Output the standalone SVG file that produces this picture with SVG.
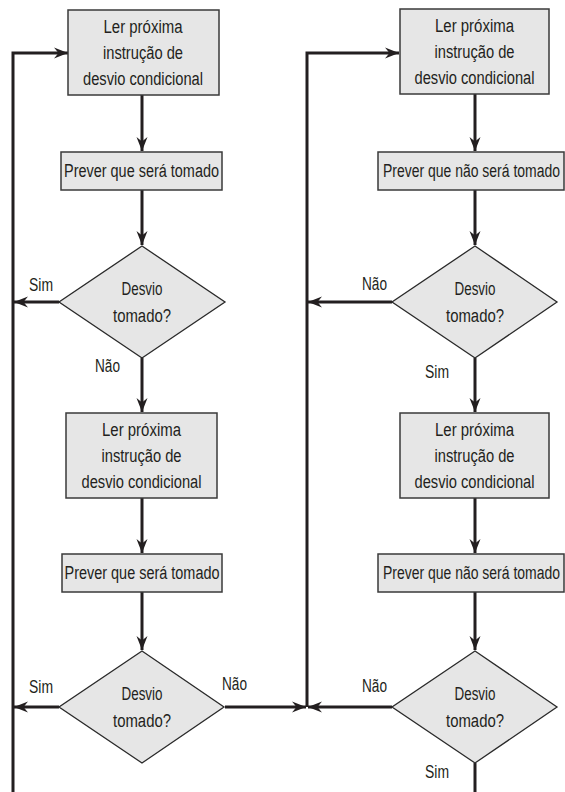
<svg xmlns="http://www.w3.org/2000/svg" width="565" height="792" viewBox="0 0 565 792">
  <style>
    .box { fill: #e6e6e6; stroke: #3a3a3a; stroke-width: 1.5; }
    .dec { fill: #e6e6e6; stroke: #2a2a2a; stroke-width: 1.3; }
    .t { font-family: "Liberation Sans", Arial, sans-serif; font-size: 18px; fill: #231f20; text-anchor: middle; }
    .lbl { font-family: "Liberation Sans", Arial, sans-serif; font-size: 18px; fill: #231f20; }
    .c { fill: none; stroke: #231f20; stroke-width: 3; }
    .a { marker-end: url(#head); }
  </style>
  <defs>
    <marker id="head" viewBox="-15 -7 16 14" refX="0" refY="0" markerWidth="16" markerHeight="14" markerUnits="userSpaceOnUse" orient="auto">
      <path d="M0,0 L-14,-5.5 L-9.5,0 L-14,5.5 Z" fill="#231f20"/>
    </marker>
  </defs>

  <!-- connectors -->
  <g id="connectors">
    <!-- left column -->
    <path class="c a" d="M13,792 V53 H68"/>
    <path class="c a" d="M142,95 V151"/>
    <path class="c a" d="M142,190 V245"/>
    <path class="c a" d="M59,302 H14"/>
    <path class="c a" d="M142,358 V412"/>
    <path class="c a" d="M142,498 V553"/>
    <path class="c a" d="M142,592 V650"/>
    <path class="c a" d="M59,707 H14"/>
    <path class="c a" d="M225,707 H306"/>
    <!-- right column -->
    <path class="c a" d="M307,707 V53 H399"/>
    <path class="c a" d="M475,94 V151"/>
    <path class="c a" d="M475,190 V245"/>
    <path class="c a" d="M392,302 H308"/>
    <path class="c a" d="M475,358 V412"/>
    <path class="c a" d="M475,498 V553"/>
    <path class="c a" d="M475,592 V650"/>
    <path class="c a" d="M392,707 H308"/>
    <path class="c" d="M475,763 V792"/>
  </g>

  <!-- left column nodes -->
  <g id="ler1">
    <rect class="box" x="68" y="10" width="151" height="85"/>
    <text class="t" x="143" y="33" textLength="79" lengthAdjust="spacingAndGlyphs">Ler próxima</text>
    <text class="t" x="143" y="59" textLength="80" lengthAdjust="spacingAndGlyphs">instrução de</text>
    <text class="t" x="143" y="85" textLength="120" lengthAdjust="spacingAndGlyphs">desvio condicional</text>
  </g>
  <g id="prever1">
    <rect class="box" x="61" y="152" width="161" height="38"/>
    <text class="t" x="141.5" y="177" textLength="155" lengthAdjust="spacingAndGlyphs">Prever que será tomado</text>
  </g>
  <g id="desvio1">
    <polygon class="dec" points="142,246 225,302 142,358 59,302"/>
    <text class="t" x="142" y="295" textLength="41" lengthAdjust="spacingAndGlyphs">Desvio</text>
    <text class="t" x="142" y="322" textLength="58" lengthAdjust="spacingAndGlyphs">tomado?</text>
  </g>
  <g id="ler2">
    <rect class="box" x="66" y="413" width="151" height="85"/>
    <text class="t" x="141.5" y="436" textLength="79" lengthAdjust="spacingAndGlyphs">Ler próxima</text>
    <text class="t" x="141.5" y="462" textLength="80" lengthAdjust="spacingAndGlyphs">instrução de</text>
    <text class="t" x="141.5" y="488" textLength="120" lengthAdjust="spacingAndGlyphs">desvio condicional</text>
  </g>
  <g id="prever2">
    <rect class="box" x="62" y="554" width="160" height="38"/>
    <text class="t" x="142" y="579" textLength="155" lengthAdjust="spacingAndGlyphs">Prever que será tomado</text>
  </g>
  <g id="desvio2">
    <polygon class="dec" points="142,651 224,707 142,763 59,707"/>
    <text class="t" x="142" y="700" textLength="41" lengthAdjust="spacingAndGlyphs">Desvio</text>
    <text class="t" x="142" y="727" textLength="58" lengthAdjust="spacingAndGlyphs">tomado?</text>
  </g>

  <!-- right column nodes -->
  <g id="ler3">
    <rect class="box" x="400" y="9" width="149" height="85"/>
    <text class="t" x="474.5" y="32" textLength="79" lengthAdjust="spacingAndGlyphs">Ler próxima</text>
    <text class="t" x="474.5" y="58" textLength="80" lengthAdjust="spacingAndGlyphs">instrução de</text>
    <text class="t" x="474.5" y="84" textLength="120" lengthAdjust="spacingAndGlyphs">desvio condicional</text>
  </g>
  <g id="prever3">
    <rect class="box" x="378" y="152" width="186" height="38"/>
    <text class="t" x="471.5" y="177" textLength="177" lengthAdjust="spacingAndGlyphs">Prever que não será tomado</text>
  </g>
  <g id="desvio3">
    <polygon class="dec" points="475,246 557,302 475,358 392,302"/>
    <text class="t" x="475" y="295" textLength="41" lengthAdjust="spacingAndGlyphs">Desvio</text>
    <text class="t" x="475" y="322" textLength="58" lengthAdjust="spacingAndGlyphs">tomado?</text>
  </g>
  <g id="ler4">
    <rect class="box" x="400" y="413" width="149" height="85"/>
    <text class="t" x="474.5" y="436" textLength="79" lengthAdjust="spacingAndGlyphs">Ler próxima</text>
    <text class="t" x="474.5" y="462" textLength="80" lengthAdjust="spacingAndGlyphs">instrução de</text>
    <text class="t" x="474.5" y="488" textLength="120" lengthAdjust="spacingAndGlyphs">desvio condicional</text>
  </g>
  <g id="prever4">
    <rect class="box" x="378" y="554" width="186" height="38"/>
    <text class="t" x="471.5" y="579" textLength="177" lengthAdjust="spacingAndGlyphs">Prever que não será tomado</text>
  </g>
  <g id="desvio4">
    <polygon class="dec" points="475,651 557,707 475,763 392,707"/>
    <text class="t" x="475" y="700" textLength="41" lengthAdjust="spacingAndGlyphs">Desvio</text>
    <text class="t" x="475" y="727" textLength="58" lengthAdjust="spacingAndGlyphs">tomado?</text>
  </g>

  <!-- branch labels -->
  <g id="labels">
    <text class="lbl" x="29" y="291" textLength="24" lengthAdjust="spacingAndGlyphs">Sim</text>
    <text class="lbl" x="95" y="372" textLength="25" lengthAdjust="spacingAndGlyphs">Não</text>
    <text class="lbl" x="362" y="290" textLength="25" lengthAdjust="spacingAndGlyphs">Não</text>
    <text class="lbl" x="425" y="378" textLength="24" lengthAdjust="spacingAndGlyphs">Sim</text>
    <text class="lbl" x="29" y="693" textLength="24" lengthAdjust="spacingAndGlyphs">Sim</text>
    <text class="lbl" x="222" y="690" textLength="25" lengthAdjust="spacingAndGlyphs">Não</text>
    <text class="lbl" x="362" y="692" textLength="25" lengthAdjust="spacingAndGlyphs">Não</text>
    <text class="lbl" x="425" y="778" textLength="24" lengthAdjust="spacingAndGlyphs">Sim</text>
  </g>
</svg>
